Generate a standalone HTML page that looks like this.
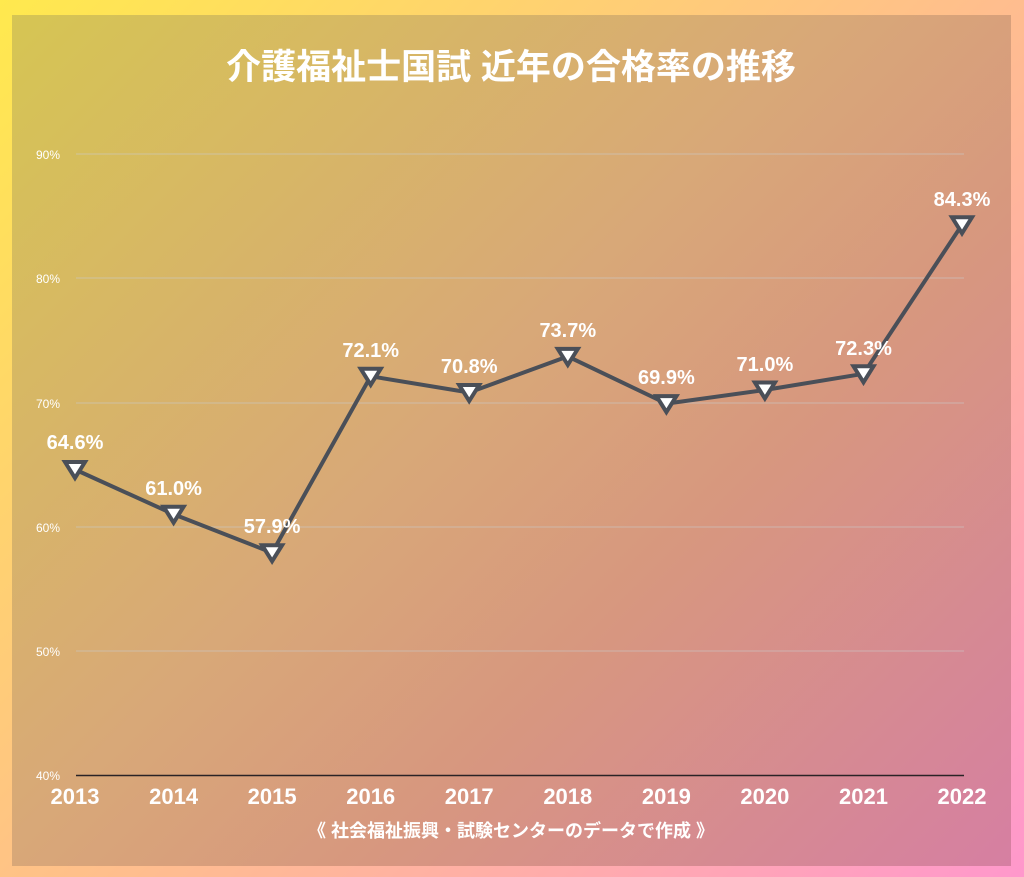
<!DOCTYPE html>
<html><head><meta charset="utf-8"><style>
html,body{margin:0;padding:0}
body{width:1024px;height:877px;overflow:hidden;background:linear-gradient(135deg,#ffe94e 0%,#ffc08a 50%,#ff98cc 100%);position:relative;font-family:"Liberation Sans","Noto Sans CJK JP",sans-serif}
.panel{position:absolute;left:12px;top:15px;width:999px;height:851px;background:linear-gradient(135deg,#d6c553 0%,#d8a878 45%,#d7977f 65%,#d67fa2 100%)}
svg{position:absolute;left:0;top:0}
</style></head><body>
<div class="panel"></div>
<svg width="1024" height="877" viewBox="0 0 1024 877">
<text x="511" y="79" text-anchor="middle" fill="#fff" font-size="35" font-weight="bold" font-family="Liberation Sans,Noto Sans CJK JP,sans-serif">介護福祉士国試 近年の合格率の推移</text>
<g stroke="#c9c9c9" stroke-opacity="0.6" stroke-width="1">
<line x1="76" y1="154" x2="964" y2="154"/><line x1="76" y1="278" x2="964" y2="278"/><line x1="76" y1="403" x2="964" y2="403"/><line x1="76" y1="527" x2="964" y2="527"/><line x1="76" y1="651" x2="964" y2="651"/>
</g>
<line x1="76" y1="775.5" x2="964" y2="775.5" stroke="#2a2326" stroke-width="1.5"/>
<g fill="#fff" font-size="12" font-family="Liberation Sans,sans-serif">
<text x="36" y="159">90%</text><text x="36" y="283">80%</text><text x="36" y="408">70%</text><text x="36" y="532">60%</text><text x="36" y="656">50%</text><text x="36" y="780">40%</text>
</g>
<g fill="#fff" font-size="22" font-weight="bold" text-anchor="middle" font-family="Liberation Sans,sans-serif">
<text x="75" y="804">2013</text><text x="173.6" y="804">2014</text><text x="272.1" y="804">2015</text><text x="370.7" y="804">2016</text><text x="469.2" y="804">2017</text><text x="567.8" y="804">2018</text><text x="666.4" y="804">2019</text><text x="764.9" y="804">2020</text><text x="863.5" y="804">2021</text><text x="962" y="804">2022</text>
</g>
<text x="511" y="837" text-anchor="middle" fill="#fff" font-size="18" font-weight="bold" font-family="Liberation Sans,Noto Sans CJK JP,sans-serif">《 社会福祉振興・試験センターのデータで作成 》</text>
<polyline fill="none" stroke="#4a4f58" stroke-width="4" stroke-linejoin="round" points="75,469.5 173.6,514.2 272.1,552.7 370.7,376.3 469.2,392.5 567.8,356.4 666.4,403.6 764.9,390 863.5,373.8 962,224.8"/>
<g fill="#fff" stroke="#4a4f58" stroke-width="4" stroke-linejoin="miter">
<polygon points="65,462 85,462 75,478"/>
<polygon points="163.6,506.7 183.6,506.7 173.6,522.7"/>
<polygon points="262.1,545.2 282.1,545.2 272.1,561.2"/>
<polygon points="360.7,368.8 380.7,368.8 370.7,384.8"/>
<polygon points="459.2,385 479.2,385 469.2,401"/>
<polygon points="557.8,348.9 577.8,348.9 567.8,364.9"/>
<polygon points="656.4,396.1 676.4,396.1 666.4,412.1"/>
<polygon points="754.9,382.5 774.9,382.5 764.9,398.5"/>
<polygon points="853.5,366.3 873.5,366.3 863.5,382.3"/>
<polygon points="952,217.3 972,217.3 962,233.3"/>
</g>
<g fill="#fff" font-size="20" font-weight="bold" text-anchor="middle" font-family="Liberation Sans,sans-serif">
<text x="75" y="449">64.6%</text><text x="173.6" y="495">61.0%</text><text x="272.1" y="533">57.9%</text><text x="370.7" y="357">72.1%</text><text x="469.2" y="373">70.8%</text><text x="567.8" y="337">73.7%</text><text x="666.4" y="384">69.9%</text><text x="764.9" y="371">71.0%</text><text x="863.5" y="355">72.3%</text><text x="962" y="206">84.3%</text>
</g>
</svg>
</body></html>
